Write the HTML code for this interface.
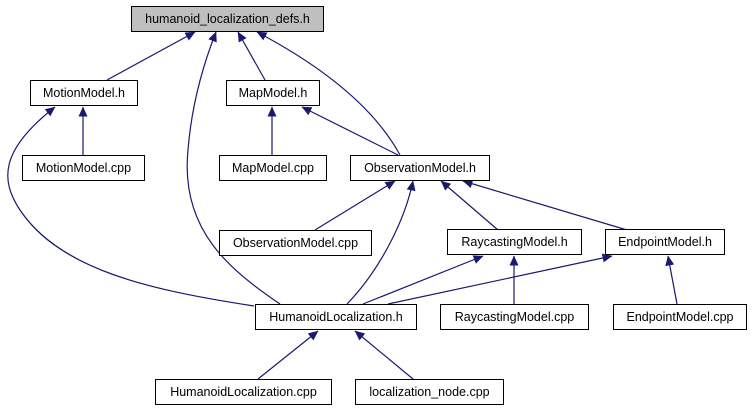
<!DOCTYPE html>
<html><head><meta charset="utf-8"><style>
body{margin:0;background:#fff}
svg text{font-family:"Liberation Sans",sans-serif;font-size:12.5px;fill:#000}
</style></head><body>
<svg width="752" height="411" viewBox="0 0 752 411" xmlns="http://www.w3.org/2000/svg">
<defs>
<marker id="a" markerWidth="10" markerHeight="9" refX="9.5" refY="4.5" orient="auto" markerUnits="userSpaceOnUse">
<path d="M0,0 L10,4.5 L0,9 Z" fill="#191970"/>
</marker>
</defs>
<g fill="none" stroke="#191970" stroke-width="1.2" marker-end="url(#a)">
<path d="M107,80 L195,32"/>
<path d="M280,304 C230,270 180,230 188,150 C192,100 205,60 216,32"/>
<path d="M265,80 L238,32"/>
<path d="M400,155 C370,100 310,60 257,32"/>
<path d="M83,155 L83,107"/>
<path d="M272,155 L272,107"/>
<path d="M254,306 C150,290 60,270 20,210 C0,180 0,150 55,107"/>
<path d="M398,155 L302,107"/>
<path d="M315,230 L395,181"/>
<path d="M347,304 C380,270 405,220 413,181"/>
<path d="M498,230 L441,181"/>
<path d="M627,230 L463,181"/>
<path d="M363,304 L483,256"/>
<path d="M388,304 L612,256"/>
<path d="M514,304 L514,256"/>
<path d="M677,304 L668,256"/>
<path d="M258,379 L318,331"/>
<path d="M413,379 L355,331"/>
</g>
<g stroke="#000" stroke-width="1">
<rect x="131.5" y="6.5" width="192" height="25" fill="#bfbfbf"/>
<rect x="30.5" y="80.5" width="107" height="25" fill="#fff"/>
<rect x="226.5" y="80.5" width="93" height="25" fill="#fff"/>
<rect x="22.5" y="155.5" width="122" height="25" fill="#fff"/>
<rect x="219.5" y="155.5" width="107" height="25" fill="#fff"/>
<rect x="350.5" y="155.5" width="139" height="25" fill="#fff"/>
<rect x="219.5" y="230.5" width="152" height="25" fill="#fff"/>
<rect x="447.5" y="229.5" width="134" height="25" fill="#fff"/>
<rect x="605.5" y="229.5" width="119" height="25" fill="#fff"/>
<rect x="255.5" y="304.5" width="161" height="25" fill="#fff"/>
<rect x="440.5" y="304.5" width="148" height="25" fill="#fff"/>
<rect x="613.5" y="304.5" width="133" height="25" fill="#fff"/>
<rect x="155.5" y="379.5" width="176" height="25" fill="#fff"/>
<rect x="355.5" y="379.5" width="148" height="25" fill="#fff"/>
</g>
<g text-anchor="middle">
<text x="227.5" y="23">humanoid_localization_defs.h</text>
<text x="84" y="97">MotionModel.h</text>
<text x="273" y="97">MapModel.h</text>
<text x="83.5" y="172">MotionModel.cpp</text>
<text x="273" y="172">MapModel.cpp</text>
<text x="420" y="172">ObservationModel.h</text>
<text x="295.5" y="247">ObservationModel.cpp</text>
<text x="514.5" y="246">RaycastingModel.h</text>
<text x="665" y="246">EndpointModel.h</text>
<text x="336" y="321">HumanoidLocalization.h</text>
<text x="514.5" y="321">RaycastingModel.cpp</text>
<text x="680" y="321">EndpointModel.cpp</text>
<text x="243.5" y="396">HumanoidLocalization.cpp</text>
<text x="429.5" y="396">localization_node.cpp</text>
</g>
</svg>
</body></html>
